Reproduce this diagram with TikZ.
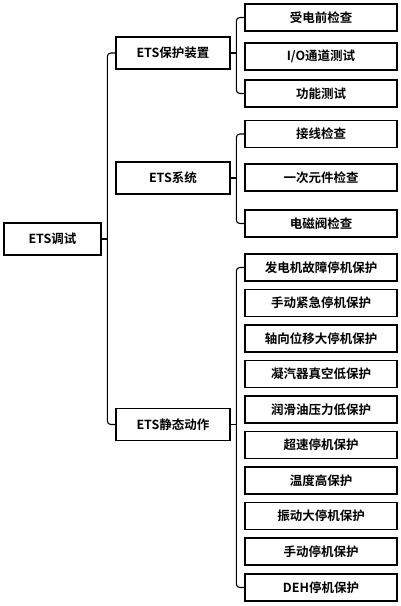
\documentclass[tikz,border=0pt]{standalone}
\usepackage{fontspec}
\setmainfont{Noto Sans CJK SC}[BoldFont={Noto Sans CJK SC Bold}]
\begin{document}
\begin{tikzpicture}[x=1pt,y=1pt,
  box/.style={draw=black,line width=1.4pt,fill=white,inner sep=0pt,font=\fontsize{12.5}{14}\selectfont\bfseries},
  leaf/.style={box,minimum width=152pt,minimum height=27pt},
  mid/.style={box,minimum width=114pt,minimum height=32pt},
  conn/.style={draw=black,line width=1.1pt,rounded corners=3.5pt}]
\useasboundingbox (0,0) rectangle (400,-606);
\node[box,minimum width=97pt,minimum height=32pt] (root) at (52.5,-239) {ETS调试};
\node[mid] (m1) at (173,-53) {ETS保护装置};
\node[mid] (m2) at (173,-178) {ETS系统};
\node[mid] (m3) at (173,-424.5) {ETS静态动作};
\node[leaf] (a1) at (321,-17.5) {受电前检查};
\node[leaf] (a2) at (321,-56.5) {I/O通道测试};
\node[leaf] (a3) at (321,-93.5) {功能测试};
\node[leaf] (b1) at (321,-134) {接线检查};
\node[leaf] (b2) at (321,-177.5) {一次元件检查};
\node[leaf] (b3) at (321,-223.5) {电磁阀检查};
\node[leaf] (c1) at (321,-267.5) {发电机故障停机保护};
\node[leaf] (c2) at (321,-303) {手动紧急停机保护};
\node[leaf] (c3) at (321,-338.5) {轴向位移大停机保护};
\node[leaf] (c4) at (321,-374) {凝汽器真空低保护};
\node[leaf] (c5) at (321,-409.5) {润滑油压力低保护};
\node[leaf] (c6) at (321,-445) {超速停机保护};
\node[leaf] (c7) at (321,-480.5) {温度高保护};
\node[leaf] (c8) at (321,-516) {振动大停机保护};
\node[leaf] (c9) at (321,-551.5) {手动停机保护};
\node[leaf] (c10) at (321,-587.5) {DEH停机保护};
% trunk from root
\path[conn] (m1.west) -- ++(-8,0) |- (m3.west);
\path[conn] (root.east) -- (root.east -| {(107.5,0)});
% brackets
\path[conn] (a1.west) -- ++(-8,0) |- (a3.west);
\path[conn] (m1.east) -- (m1.east -| {(237,0)});
\path[conn] (b1.west) -- ++(-8,0) |- (b3.west);
\path[conn] (m2.east) -- (m2.east -| {(237,0)});
\path[conn] (c1.west) -- ++(-8,0) |- (c10.west);
\path[conn] (m3.east) -- (m3.east -| {(237,0)});
\end{tikzpicture}
\end{document}
